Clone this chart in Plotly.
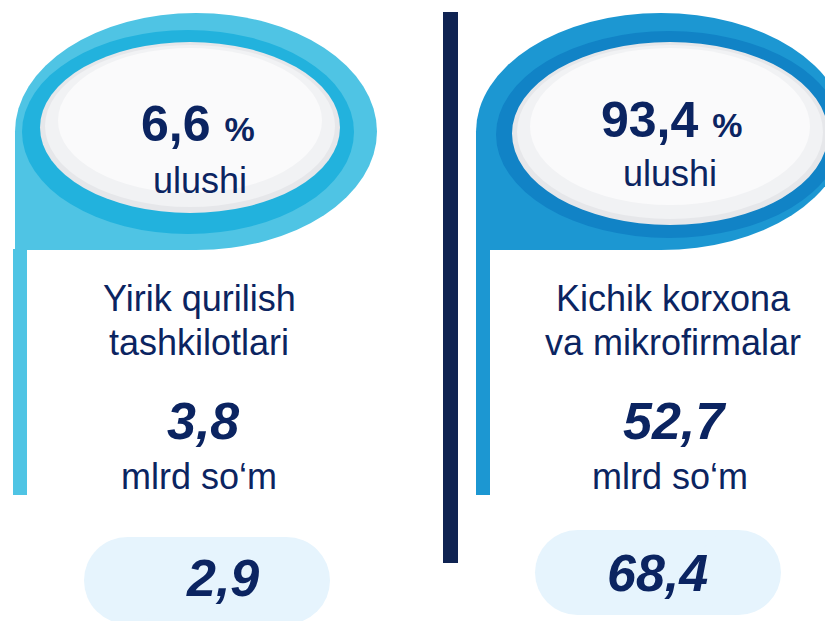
import plotly.graph_objects as go

# ---- data ----
shares = ["6,6", "93,4"]
share_word = "ulushi"
groups = [["Yirik qurilish", "tashkilotlari"], ["Kichik korxona", "va mikrofirmalar"]]
amounts = ["3,8", "52,7"]
unit = "mlrd so‘m"
pill_values = ["2,9", "68,4"]

W, H = 833, 621
OFF = 8  # page body margin
NAVY = "#0B2461"
FONT = "Liberation Sans, Arial, sans-serif"

# ---- styles / layout geometry ----
panels = [
    dict(outer="#4FC4E4", ring="#22B2DD", ox=(15, 377), oy=(13, 250), rx=(22, 354), ry=(30, 234),
         wx=(40, 340), wy=(42, 213), pole=(13, 27), pole_bottom=495,
         pill=(84, 330, 537, 624), cx=199, pill_cx=222, share_dx=8, ulushi_dx=10),
    dict(outer="#1C97D2", ring="#1183C6", ox=(476, 846), oy=(13, 250), rx=(496, 842), ry=(31, 238),
         wx=(512, 828), wy=(42, 225), pole=(476, 490), pole_bottom=495,
         pill=(535, 781, 530, 615), cx=673, pill_cx=657, share_dx=1, ulushi_dx=0),
]

shapes = []
def ell(x0, x1, y0, y1, color):
    shapes.append(dict(type="circle", xref="x", yref="y", x0=x0, x1=x1, y0=y0, y1=y1,
                       fillcolor=color, line=dict(width=0), layer="above"))
def rect(x0, x1, y0, y1, color):
    shapes.append(dict(type="rect", xref="x", yref="y", x0=x0, x1=x1, y0=y0, y1=y1,
                       fillcolor=color, line=dict(width=0), layer="above"))

for p in panels:
    (ox0, ox1), (oy0, oy1) = p["ox"], p["oy"]
    ocx, ocy = (ox0 + ox1) / 2, (oy0 + oy1) / 2
    ell(ox0, ox1, oy0, oy1, p["outer"])
    rect(ox0, ocx, ocy, oy1, p["outer"])
    rect(p["pole"][0], p["pole"][1], oy1 - 1, p["pole_bottom"], p["outer"])
    ell(*p["rx"], *p["ry"], p["ring"])
    (wx0, wx1), (wy0, wy1) = p["wx"], p["wy"]
    ell(wx0, wx1, wy0, wy1, "#E6E7EA")
    ell(wx0 + 5, wx1 - 5, wy0 + 3, wy1 - 6, "#F1F2F4")
    ell(wx0 + 18, wx1 - 18, wy0 + 6, wy1 - 20, "#FAFAFB")
    # pill
    px0, px1, py0, py1 = p["pill"]
    r = (py1 - py0) / 2
    rect(px0 + r, px1 - r, py0, py1, "#E6F4FD")
    ell(px0, px0 + 2 * r, py0, py1, "#E6F4FD")
    ell(px1 - 2 * r, px1, py0, py1, "#E6F4FD")

# navy divider
rect(443, 458, 12, 563, "#0F2352")

annotations = []
def txt(x, y, s, size, bold=False, italic=False):
    t = s
    if italic:
        t = "<i>" + t + "</i>"
    if bold:
        t = "<b>" + t + "</b>"
    annotations.append(dict(x=x, y=y, xref="x", yref="y", text=t, showarrow=False,
                            xanchor="center", yanchor="middle",
                            font=dict(family=FONT, size=size, color=NAVY)))

for i, p in enumerate(panels):
    top_cx = (p["wx"][0] + p["wx"][1]) / 2
    share_y = [124, 120][i]
    ulushi_y = [180, 173][i]
    txt(top_cx + p["share_dx"], share_y,
        "<b>" + shares[i] + "</b> <b><span style='font-size:34px'>%</span></b>", 50)
    txt(top_cx + p["ulushi_dx"], ulushi_y, share_word, 36)
    txt(p["cx"], 298, groups[i][0], 36)
    txt(p["cx"], 342, groups[i][1], 36)
    txt(p["cx"] + [4, 1][i], 421, amounts[i], 52, bold=True, italic=True)
    txt(p["cx"] - [0, 3][i], 476, unit, 36)
    txt(p["pill_cx"], [578, 573][i], pill_values[i], 52, bold=True, italic=True)

fig = go.Figure(go.Scatter(x=[], y=[]))
fig.update_layout(
    width=W - OFF, height=H - OFF, margin=dict(l=0, r=0, t=0, b=0),
    paper_bgcolor="white", plot_bgcolor="white",
    xaxis=dict(range=[OFF, W], visible=False, fixedrange=True),
    yaxis=dict(range=[H, OFF], visible=False, fixedrange=True),
    shapes=shapes, annotations=annotations, showlegend=False,
)
fig.write_html("out.html")
